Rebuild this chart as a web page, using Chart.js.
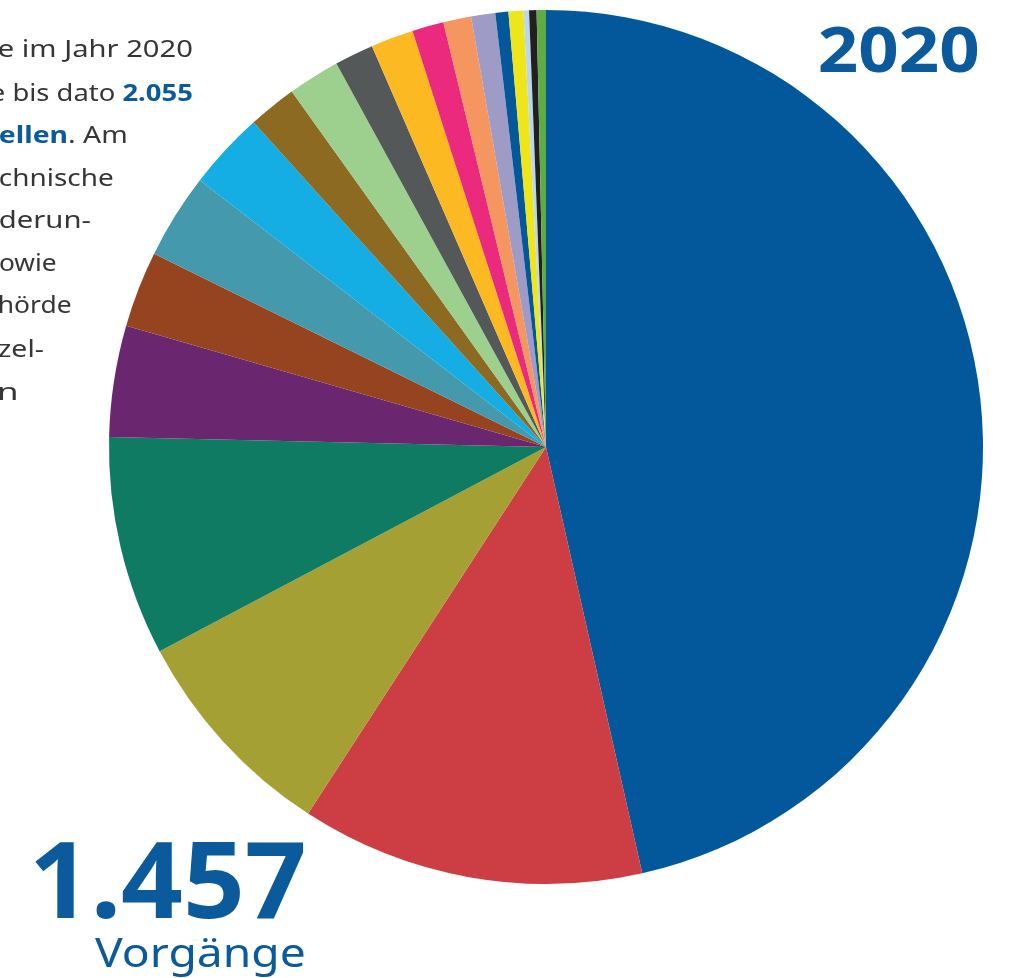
<!DOCTYPE html>
<html lang="de">
<head>
<meta charset="utf-8">
<script src="https://cdn.jsdelivr.net/npm/chart.js@4/dist/chart.umd.min.js"></script>
<style>
  html, body { margin: 0; padding: 0; background: #fff; }
  #chart { display: block; }
</style>
</head>
<body>
<canvas id="chart" width="1013" height="978"></canvas>
<script>
// Vorgänge 2020 nach Bereich (im Uhrzeigersinn ab 12 Uhr)
const categories = [
  'Bereich 1', 'Bereich 2', 'Bereich 3', 'Bereich 4', 'Bereich 5',
  'Bereich 6', 'Bereich 7', 'Bereich 8', 'Bereich 9', 'Bereich 10',
  'Bereich 11', 'Bereich 12', 'Bereich 13', 'Bereich 14', 'Bereich 15',
  'Bereich 16', 'Bereich 17', 'Bereich 18', 'Bereich 19', 'Bereich 20'
]
const vorgaenge = [677, 185, 118, 118, 60, 41, 46, 42, 26, 28, 21, 23, 17, 15, 13, 7, 8, 3, 4, 5]
const colors = [
  '#02589b', '#cc3e43', '#a4a034', '#0f7b62', '#6b2670',
  '#96441f', '#4499ad', '#14ade4', '#8d6a21', '#9dcf8e',
  '#555859', '#fdb921', '#ec2a7d', '#f59660', '#9e9bc6',
  '#02589b', '#eee51a', '#b9d8ef', '#231f20', '#5fac46'
]
const year = '2020'
const unit = 'Vorgänge'

// sichtbare Reste des Fließtexts links (Text ist im Bild abgeschnitten)
const textLines = [
  [{ t: 'e im Jahr 2020' }],
  [{ t: 'e bis dato ' }, { t: '2.055', bold: true, blue: true }],
  [{ t: 'ellen', bold: true, blue: true }, { t: '. Am' }],
  [{ t: 'chnische' }],
  [{ t: 'derun-' }],
  [{ t: 'owie' }],
  [{ t: 'hörde' }],
  [{ t: 'zel-' }],
  [{ t: 'n' }]
]

const BLUE = '#0a5a9c'
const GREY = '#363636'
const FAMILY = '"Noto Sans", "DejaVu Sans", sans-serif'

function fontOf(p, size) {
  return (p.bold ? '700 ' : '400 ') + size + 'px ' + FAMILY
}

// text so strecken, dass er zwischen left und right passt
function drawFitted(ctx, parts, left, right, baseline, size) {
  let x = 0
  let inkLeft = null
  let inkRight = 0
  let pos = []
  for (let p of parts) {
    ctx.font = fontOf(p, size)
    let m = ctx.measureText(p.t)
    if (inkLeft === null) inkLeft = -m.actualBoundingBoxLeft
    inkRight = x + m.actualBoundingBoxRight
    pos.push(x)
    x += m.width
  }
  let sx = (right - left) / (inkRight - inkLeft)
  ctx.save()
  ctx.translate(left - inkLeft * sx, baseline)
  ctx.scale(sx, 1)
  ctx.textAlign = 'left'
  ctx.textBaseline = 'alphabetic'
  parts.forEach((p, i) => {
    ctx.font = fontOf(p, size)
    ctx.fillStyle = p.blue ? BLUE : (p.color || GREY)
    ctx.fillText(p.t, pos[i], 0)
  })
  ctx.restore()
}

const textPlugin = {
  id: 'texts',
  afterDraw(chart) {
    const ctx = chart.ctx
    const lineBox = [
      [-1, 192, 57], [-9, 192, 101], [0, 126, 143], [0, 113, 186], [0, 90, 228],
      [0, 56, 271], [0, 71, 313], [-2, 43, 357], [0, 16, 400]
    ]
    textLines.forEach((parts, i) => {
      let b = lineBox[i]
      drawFitted(ctx, parts, b[0], b[1], b[2], 24)
    })

    let total = vorgaenge.reduce((a, b) => a + b, 0).toLocaleString('de-DE')
    drawFitted(ctx, [{ t: year, bold: true, blue: true }], 820, 978, 72, 62)
    drawFitted(ctx, [{ t: total, bold: true, blue: true }], 35, 304, 918, 106)
    drawFitted(ctx, [{ t: unit, blue: true }], 95, 304, 967, 40)
  }
}

new Chart(document.getElementById('chart'), {
  type: 'pie',
  data: {
    labels: categories,
    datasets: [{
      data: vorgaenge,
      backgroundColor: colors,
      borderWidth: 0,
      hoverOffset: 0
    }]
  },
  options: {
    responsive: false,
    animation: false,
    devicePixelRatio: 1,
    layout: {
      padding: { left: 109, right: 30, top: 10, bottom: 94 }
    },
    plugins: {
      legend: { display: false },
      tooltip: { enabled: false }
    }
  },
  plugins: [textPlugin]
})
</script>
</body>
</html>
